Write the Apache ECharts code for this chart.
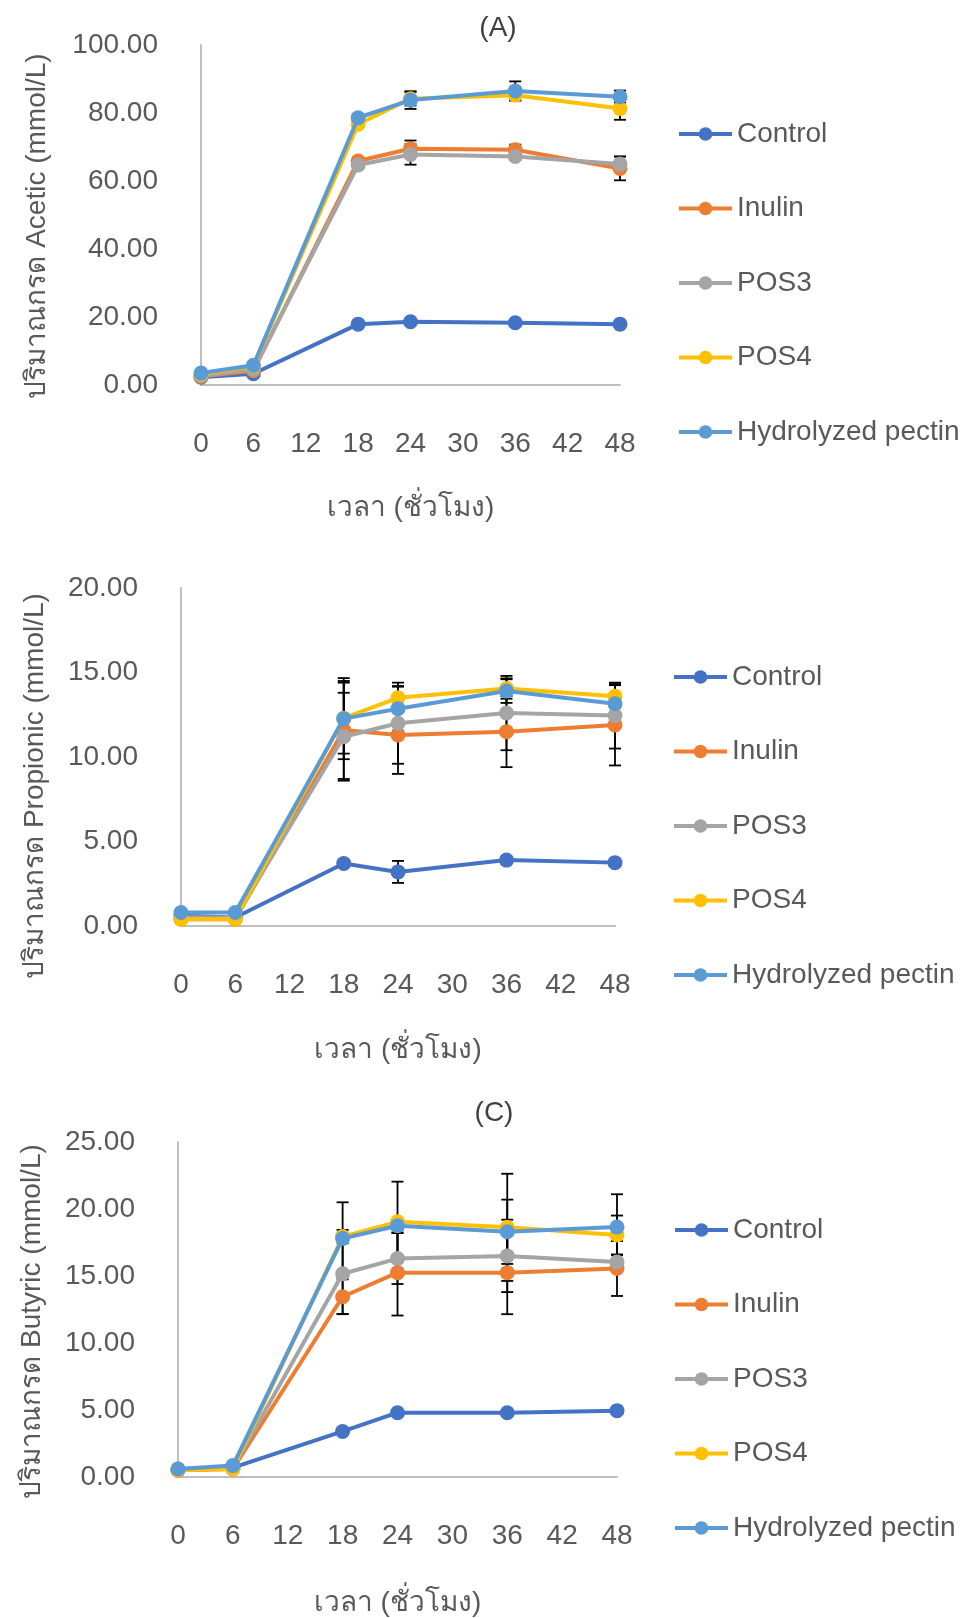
<!DOCTYPE html>
<html>
<head>
<meta charset="utf-8">
<script src="https://cdn.jsdelivr.net/npm/echarts@6/dist/echarts.min.js"></script>
<style>
html,body{margin:0;padding:0;background:#fff;}
#chart{width:966px;height:1618px;}
</style>
</head>
<body>
<div id="chart"></div>
<script>
// ---- data ----
const hours = [0, 6, 18, 24, 36, 48];
const seriesNames = ['Control', 'Inulin', 'POS3', 'POS4', 'Hydrolyzed pectin'];
const seriesColors = ['#4472C4', '#ED7D31', '#A5A5A5', '#FFC000', '#5B9BD5'];
const xTickLabels = [0, 6, 12, 18, 24, 30, 36, 42, 48];

const panelTitles = ['(A)', '', '(C)'];
const yAxisNames = ['ปริมาณกรด Acetic (mmol/L)', 'ปริมาณกรด Propionic (mmol/L)', 'ปริมาณกรด Butyric (mmol/L)'];
const xAxisName = 'เวลา (ชั่วโมง)';
const yTickLabelsA = [0, 20, 40, 60, 80, 100];
const yTickLabelsB = [0, 5, 10, 15, 20];
const yTickLabelsC = [0, 5, 10, 15, 20, 25];

// Acetic (A)
const aceticControl = [2.3, 3.3, 17.9, 18.6, 18.3, 17.9];
const aceticInulin  = [2.5, 4.2, 65.9, 69.5, 69.2, 63.7];
const aceticPOS3    = [2.7, 4.6, 64.7, 67.8, 67.2, 65.0];
const aceticPOS4    = [3.2, 5.6, 76.7, 84.2, 85.2, 81.3];
const aceticHydro   = [3.5, 5.8, 78.6, 83.8, 86.5, 84.8];
const aceticControlSD = [0.2, 0.3, 0.6, 0.6, 0.6, 0.6];
const aceticInulinSD  = [0.3, 0.4, 1.0, 2.4, 1.5, 3.5];
const aceticPOS3SD    = [0.3, 0.4, 1.0, 3.0, 1.0, 2.2];
const aceticPOS4SD    = [0.3, 0.4, 1.0, 2.0, 1.5, 3.3];
const aceticHydroSD   = [0.3, 0.4, 1.0, 2.6, 2.8, 1.8];

// Propionic (B)
const propControl = [0.6, 0.5, 3.7, 3.2, 3.9, 3.75];
const propInulin  = [0.4, 0.4, 11.6, 11.3, 11.5, 11.9];
const propPOS3    = [0.5, 0.5, 11.2, 12.0, 12.6, 12.45];
const propPOS4    = [0.4, 0.4, 12.3, 13.5, 14.05, 13.6];
const propHydro   = [0.8, 0.8, 12.27, 12.86, 13.9, 13.15];
const propControlSD = [0.05, 0.05, 0.2, 0.65, 0.2, 0.2];
const propInulinSD  = [0.05, 0.05, 2.9, 2.3, 2.1, 2.4];
const propPOS3SD    = [0.05, 0.05, 2.6, 2.4, 2.2, 1.95];
const propPOS4SD    = [0.05, 0.05, 2.1, 0.7, 0.6, 0.7];
const propHydroSD   = [0.05, 0.05, 2.4, 1.3, 0.7, 1.1];

// Butyric (C)
const butControl = [0.5, 0.7, 3.4, 4.8, 4.8, 4.95];
const butInulin  = [0.5, 0.6, 13.45, 15.25, 15.25, 15.56];
const butPOS3    = [0.6, 0.7, 15.17, 16.3, 16.5, 16.05];
const butPOS4    = [0.5, 0.6, 17.94, 19.04, 18.63, 18.06];
const butHydro   = [0.6, 0.85, 17.8, 18.75, 18.3, 18.65];
const butControlSD = [0.05, 0.05, 0.2, 0.2, 0.2, 0.2];
const butInulinSD  = [0.05, 0.05, 1.3, 3.2, 3.1, 2.05];
const butPOS3SD    = [0.05, 0.05, 3.0, 1.9, 2.7, 0.5];
const butPOS4SD    = [0.05, 0.05, 0.5, 3.0, 4.0, 1.45];
const butHydroSD   = [0.05, 0.05, 2.7, 0.5, 2.4, 2.45];

// ---- assembly ----
const panels = [
  { values: [aceticControl, aceticInulin, aceticPOS3, aceticPOS4, aceticHydro],
    sds: [aceticControlSD, aceticInulinSD, aceticPOS3SD, aceticPOS4SD, aceticHydroSD],
    yTicks: yTickLabelsA },
  { values: [propControl, propInulin, propPOS3, propPOS4, propHydro],
    sds: [propControlSD, propInulinSD, propPOS3SD, propPOS4SD, propHydroSD],
    yTicks: yTickLabelsB },
  { values: [butControl, butInulin, butPOS3, butPOS4, butHydro],
    sds: [butControlSD, butInulinSD, butPOS3SD, butPOS4SD, butHydroSD],
    yTicks: yTickLabelsC }
];

const FONT = "'Liberation Sans', Arial, 'Noto Sans', sans-serif";
const TXT = '#595959';
const AXIS = '#BFBFBF';
const FS = 28;

const layout = [
  { grid: {left: 201, top: 45, width: 419, height: 340}, yGap: 150, yShift: 22, xGap: 109, legend: {left: 677, top: 119}, title: {x: 498, y: 14} },
  { grid: {left: 181, top: 588, width: 434, height: 338}, yGap: 132, yShift: 58, xGap: 110, legend: {left: 672, top: 662}, title: {x: 490, y: 560} },
  { grid: {left: 178, top: 1142, width: 439, height: 339}, yGap: 132, yShift: 24, xGap: 112, legend: {left: 673, top: 1215}, title: {x: 494, y: 1099} }
];

const grids = [], xAxes = [], yAxes = [], series = [], legends = [], titles = [];

panels.forEach((p, k) => {
  const L = layout[k];
  grids.push(Object.assign({containLabel: false}, L.grid));
  xAxes.push({
    type: 'value', gridIndex: k, min: xTickLabels[0], max: xTickLabels[xTickLabels.length - 1],
    interval: xTickLabels[1] - xTickLabels[0],
    name: xAxisName, nameLocation: 'middle', nameGap: L.xGap,
    nameTextStyle: {fontSize: FS, color: TXT, fontFamily: FONT},
    axisLine: {show: true, onZero: false, lineStyle: {color: AXIS, width: 2}},
    axisTick: {show: false}, splitLine: {show: false},
    axisLabel: {fontSize: FS, color: TXT, fontFamily: FONT, margin: 45}
  });
  const yt = p.yTicks;
  yAxes.push({
    type: 'value', gridIndex: k, min: yt[0], max: yt[yt.length - 1], interval: yt[1] - yt[0],
    name: yAxisNames[k], nameLocation: 'middle', nameGap: L.yGap,
    nameTextStyle: {fontSize: FS, color: TXT, fontFamily: FONT, padding: [0, L.yShift, 0, 0]},
    axisLine: {show: true, lineStyle: {color: AXIS, width: 2}},
    axisTick: {show: false}, splitLine: {show: false},
    axisLabel: {fontSize: FS, color: TXT, fontFamily: FONT, margin: 43, formatter: v => v.toFixed(2)}
  });
  if (panelTitles[k]) {
    titles.push({text: panelTitles[k], left: L.title.x, top: L.title.y, textAlign: 'center', padding: 0,
      textStyle: {fontSize: FS, fontWeight: 'normal', color: '#404040', fontFamily: FONT}});
  }
  legends.push({
    orient: 'vertical', left: L.legend.left, top: L.legend.top, padding: 0,
    data: seriesNames, itemWidth: 53, itemHeight: 17, itemGap: 44.5,
    lineStyle: {width: 4},
    textStyle: {fontSize: FS, color: TXT, fontFamily: FONT, lineHeight: 30},
    selectedMode: false
  });
  p.values.forEach((vals, i) => {
    const sd = p.sds[i];
    series.push({
      type: 'custom', xAxisIndex: k, yAxisIndex: k, silent: true, z: 2,
      data: hours.map((h, j) => [h, vals[j], sd[j]]),
      encode: {x: 0, y: 1},
      clip: false,
      renderItem: (params, api) => {
        const x = api.value(0), y = api.value(1), e = api.value(2);
        const t = api.coord([x, y + e]);
        const b = api.coord([x, y - e]);
        const hw = 6;
        const st = {stroke: '#000', lineWidth: 1.8};
        return {type: 'group', children: [
          {type: 'line', shape: {x1: t[0], y1: t[1], x2: b[0], y2: b[1]}, style: st},
          {type: 'line', shape: {x1: t[0] - hw, y1: t[1], x2: t[0] + hw, y2: t[1]}, style: st},
          {type: 'line', shape: {x1: b[0] - hw, y1: b[1], x2: b[0] + hw, y2: b[1]}, style: st}
        ]};
      }
    });
    series.push({
      name: seriesNames[i], type: 'line', xAxisIndex: k, yAxisIndex: k,
      data: hours.map((h, j) => [h, vals[j]]),
      symbol: 'circle', symbolSize: 15, clip: false, z: 3 + i,
      lineStyle: {width: 4, color: seriesColors[i]},
      itemStyle: {color: seriesColors[i]},
      emphasis: {disabled: true}
    });
  });
});

const chart = echarts.init(document.getElementById('chart'), null, {renderer: 'canvas'});
chart.setOption({
  animation: false,
  backgroundColor: '#ffffff',
  color: seriesColors,
  textStyle: {fontFamily: FONT},
  title: titles,
  grid: grids,
  xAxis: xAxes,
  yAxis: yAxes,
  legend: legends,
  series: series
});
</script>
</body>
</html>
